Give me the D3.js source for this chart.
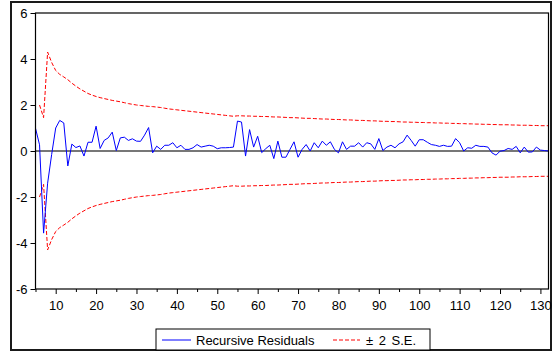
<!DOCTYPE html>
<html>
<head>
<meta charset="utf-8">
<script src="https://cdn.jsdelivr.net/npm/d3@7"></script>
<style>
  body { margin: 0; background: #fff; }
  svg { display: block; font-family: "Liberation Sans", Arial, sans-serif; }
</style>
</head>
<body>
<div id="chart"></div>
<script>
// observation numbers run from 5 to 132
var firstObs = 5;

var residuals = [
  0.99, 0.27, -3.57, -1.40, -0.15, 1.00, 1.33, 1.22, -0.65, 0.30,
  0.15, 0.22, -0.22, 0.38, 0.38, 1.08, 0.11, 0.46, 0.57, 0.82,
  0.02, 0.57, 0.60, 0.46, 0.53, 0.43, 0.42, 0.69, 1.02, -0.08,
  0.21, 0.07, 0.25, 0.25, 0.36, 0.14, 0.25, 0.07, 0.07, 0.14,
  0.28, 0.17, 0.21, 0.25, 0.21, 0.10, 0.14, 0.14, 0.15, 0.17,
  1.30, 1.26, -0.22, 0.93, 0.17, 0.64, -0.07, 0.10, 0.25, -0.33,
  0.43, -0.27, -0.27, 0.07, 0.40, -0.27, 0.07, 0.28, 0.00, 0.36,
  0.14, 0.43, 0.25, 0.40, 0.07, -0.08, 0.40, 0.07, 0.21, 0.21,
  0.36, 0.17, 0.36, 0.31, 0.07, 0.54, 0.02, 0.17, 0.25, 0.14,
  0.31, 0.40, 0.69, 0.46, 0.21, 0.49, 0.49, 0.38, 0.28, 0.25,
  0.20, 0.25, 0.20, 0.21, 0.54, 0.36, 0.00, 0.14, 0.12, 0.25,
  0.20, 0.20, 0.17, -0.08, -0.18, -0.01, 0.02, 0.11, 0.07, 0.20,
  -0.08, 0.17, -0.05, -0.04, 0.17, 0.04, 0.02, 0.00
];

// two standard errors, starting one observation later (obs 6)
var seObs = 6;
var twoSE = [
  2.00, 1.45, 4.30, 3.85, 3.50, 3.33, 3.22, 3.10, 2.95, 2.82,
  2.70, 2.60, 2.50, 2.43, 2.37, 2.32, 2.28, 2.24, 2.20, 2.17,
  2.14, 2.10, 2.06, 2.03, 2.00, 1.98, 1.96, 1.94, 1.93, 1.91,
  1.89, 1.86, 1.83, 1.81, 1.79, 1.77, 1.75, 1.73, 1.71, 1.69,
  1.67, 1.65, 1.63, 1.61, 1.59, 1.57, 1.55, 1.53, 1.51, 1.53,
  1.53, 1.52, 1.52, 1.51, 1.51, 1.50, 1.50, 1.49, 1.48, 1.48,
  1.47, 1.46, 1.45, 1.45, 1.44, 1.43, 1.42, 1.42, 1.41, 1.40,
  1.39, 1.39, 1.38, 1.37, 1.37, 1.36, 1.35, 1.35, 1.34, 1.33,
  1.33, 1.32, 1.31, 1.31, 1.30, 1.29, 1.29, 1.28, 1.28, 1.27,
  1.26, 1.26, 1.25, 1.25, 1.24, 1.24, 1.23, 1.23, 1.22, 1.22,
  1.21, 1.21, 1.20, 1.20, 1.19, 1.19, 1.18, 1.18, 1.17, 1.17,
  1.16, 1.16, 1.15, 1.15, 1.14, 1.14, 1.14, 1.13, 1.13, 1.12,
  1.12, 1.12, 1.11, 1.11, 1.10, 1.10, 1.10
];

var xMajorTicks = [10, 20, 30, 40, 50, 60, 70, 80, 90, 100, 110, 120, 130];
var xMinorTicks = [5, 15, 25, 35, 45, 55, 65, 75, 85, 95, 105, 115, 125];
var yTicks = [-6, -4, -2, 0, 2, 4, 6];
var legendLabels = ["Recursive Residuals", "\u00b1 2 S.E."];

var W = 555, H = 353;
var plot = { left: 35.5, right: 548.5, top: 13, bottom: 289 };

var resData = residuals.map(function(v, i) { return { obs: firstObs + i, v: v }; });
var seData = twoSE.map(function(v, i) { return { obs: seObs + i, v: v }; });

var x = d3.scaleLinear()
    .domain([firstObs, firstObs + residuals.length - 1])
    .range([plot.left, plot.right]);

var y = d3.scaleLinear()
    .domain([-6, 6])
    .range([plot.bottom, plot.top]);

var svg = d3.select("#chart").append("svg")
    .attr("width", W)
    .attr("height", H);

// outer frame
svg.append("rect")
    .attr("x", 11).attr("y", 2)
    .attr("width", 540).attr("height", 348)
    .attr("fill", "none")
    .attr("stroke", "#1a1a1a")
    .attr("stroke-width", 2);

// zero line
svg.append("line")
    .attr("x1", plot.left).attr("x2", plot.right)
    .attr("y1", y(0)).attr("y2", y(0))
    .attr("stroke", "#777")
    .attr("stroke-width", 1.8);

var line = d3.line()
    .x(function(d) { return x(d.obs); })
    .y(function(d) { return y(d.v); });

var lineNeg = d3.line()
    .x(function(d) { return x(d.obs); })
    .y(function(d) { return y(-d.v); });

svg.append("path")
    .datum(seData)
    .attr("fill", "none")
    .attr("stroke", "#ff0000")
    .attr("stroke-width", 1)
    .attr("stroke-dasharray", "4,2")
    .attr("d", line);

svg.append("path")
    .datum(seData)
    .attr("fill", "none")
    .attr("stroke", "#ff0000")
    .attr("stroke-width", 1)
    .attr("stroke-dasharray", "4,2")
    .attr("d", lineNeg);

svg.append("path")
    .datum(resData)
    .attr("fill", "none")
    .attr("stroke", "#0000ff")
    .attr("stroke-width", 1)
    .attr("d", line);

// plot frame
svg.append("rect")
    .attr("x", plot.left).attr("y", plot.top)
    .attr("width", plot.right - plot.left).attr("height", plot.bottom - plot.top)
    .attr("fill", "none")
    .attr("stroke", "#000")
    .attr("stroke-width", 1.2);

// y axis
var yAxis = d3.axisLeft(y)
    .tickValues(yTicks)
    .tickFormat(function(d) { return String(d); })
    .tickSize(5)
    .tickPadding(3);

var gy = svg.append("g")
    .attr("transform", "translate(" + plot.left + ",0)")
    .call(yAxis);
gy.select(".domain").remove();
gy.selectAll("text").style("font-size", "13px").attr("fill", "#000");

// x axis, major and minor ticks
var xAxis = d3.axisBottom(x)
    .tickValues(xMajorTicks)
    .tickFormat(function(d) { return d; })
    .tickSize(5)
    .tickPadding(7);

var gx = svg.append("g")
    .attr("transform", "translate(0," + plot.bottom + ")")
    .call(xAxis);
gx.select(".domain").remove();
gx.selectAll("text").style("font-size", "13px").attr("fill", "#000");

var xAxisMinor = d3.axisBottom(x)
    .tickValues(xMinorTicks)
    .tickFormat("")
    .tickSize(3);

var gxm = svg.append("g")
    .attr("transform", "translate(0," + plot.bottom + ")")
    .call(xAxisMinor);
gxm.select(".domain").remove();

// legend
var lg = svg.append("g").attr("transform", "translate(156,329)");
lg.append("rect")
    .attr("width", 274).attr("height", 21)
    .attr("fill", "#fff")
    .attr("stroke", "#000")
    .attr("stroke-width", 1);

lg.append("line")
    .attr("x1", 6).attr("x2", 35).attr("y1", 11).attr("y2", 11)
    .attr("stroke", "#0000ff");
lg.append("text")
    .attr("x", 40).attr("y", 15.5)
    .style("font-size", "13px")
    .text(legendLabels[0]);

lg.append("line")
    .attr("x1", 177).attr("x2", 204).attr("y1", 11).attr("y2", 11)
    .attr("stroke", "#ff0000")
    .attr("stroke-dasharray", "4,2");
lg.append("text")
    .attr("x", 210).attr("y", 15.5)
    .style("font-size", "13px")
    .style("word-spacing", "2px")
    .text(legendLabels[1]);
</script>
</body>
</html>
